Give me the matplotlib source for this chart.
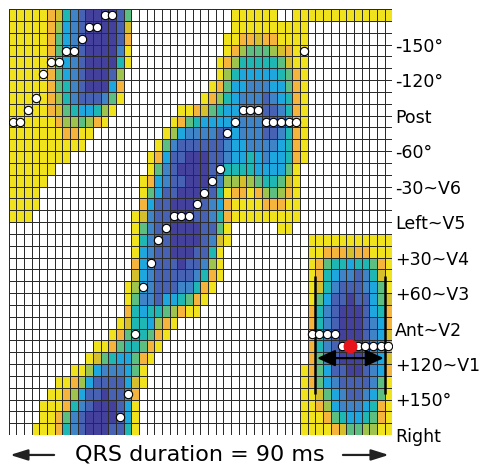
import numpy as np
import matplotlib
matplotlib.use('Agg')
import matplotlib.pyplot as plt
from matplotlib.colors import ListedColormap

# === Grille 36 lignes x 50 colonnes : une lettre par case ===
# . blanc, y jaune, o orange, l olive, g vert-jaune, G vert, t turquoise,
# c cyan, m bleu moyen, b bleu, d bleu fonce
heat_rows = [
    "yyyyyoltmbddddbG.............yyyyyy..yyyyyyyyyyyyy",
    "yyyyyogcmbddddbl.............yyyyyyyyyy...........",
    "yyyyyoGcmbddddbo............yyoolooyyyy...........",
    "yyyyyoGcmbddddmy............yogGGGgloyy...........",
    "yyyyyoGcmbddddty...........yogtttttGlyy...........",
    "yyyyyoGcmbdddbg............ygtccccctGoy...........",
    "yyyyyoGtmbdddco...........yoGccmmmccGoy...........",
    "yyyyyogtmbbbmGy..........yogtcmmmbmctoy...........",
    "yyyyyolGtcctgy........yyolGtccmmmbbmtoy...........",
    "yyyyyyoggGgoy........yoGtccccmmmmbbbcoy...........",
    "yyyyyyyooyy.........ygcmmmmbbcmmmbbmtoy...........",
    "yyyyyyyyyy.........yGmbbbbbbmccmmmmctoy...........",
    "yyyyyyyy..........yocbbdddbbmcctcmcctoy...........",
    "yyyyyy............yGmbddddbbttttccccGy............",
    "yyyyy............yocmbbdddbmgglgGttGly............",
    "yyyy.............yGcbbdddbbtyooyogGgoy............",
    "yyyy.............ocbbdddbbmcoyyyyoooyy............",
    "yyy.............ylmbbdddbbmtoyyyyyyyyy............",
    "................yGmbbddddbbGy......yy.............",
    "................ytmbbddddbmly..........yyyyyyyyyyy",
    "................ycmbbdddbbty...........yyooolooyyy",
    "................ocmbbbdbbmgy...........yoGttcttGoy",
    "................lcmbbbbbmtoy...........yotcmmbmtly",
    "...............ygcmbbbmmtoy............yltmbbbmcGy",
    "...............yGmmbcctGoy.............yGcbbdbbcGl",
    "...............otcttGgoyy..............otmbdddbcto",
    "..............ylttcgoy.................otmbdddbmco",
    ".............yoGttGoy..................otmbdddbmcl",
    "...........yyoGttGoy...................otmbdddbmcl",
    "..........ylGtccGoy....................oGmbdddbmcl",
    "........yygcmmmcGy....................yoGcbbddbmco",
    "......yyogcbbbbcly....................yoGcmbbbbmGy",
    ".....yyogcbbdbbco.....................yylGcmbbmcGy",
    "....yyyotmbdddbcy.....................yyogcmmmctoy",
    "....yyoGmbddddbcy.....................yyyoGtcctGoy",
    "...yyyotmbdddbbty.....................yyyyolGGggyy",
]
level_keys = ".yolgGtcmbd"
level_colors = ['white', '#F0E31E', '#F5B53C', '#D5BF2D', '#9EC44E', '#5CBE80',
                '#1FB7B3', '#1EA7DF', '#3E84C7', '#4762B2', '#43419B']

# points blancs (colonne, ligne)
dot_cols = [12, 13, 10, 11, 9, 7, 8, 5, 6, 4, 3, 2, 0, 1,
            38, 30, 31, 32, 29, 33, 34, 35, 36, 37, 28,
            27, 26, 25, 24, 21, 22, 23, 20, 19, 18, 17, 16, 15, 14,
            39, 40, 41, 42, 43, 45, 46, 47, 48, 49]
dot_rows = [0, 0, 1, 1, 2, 3, 3, 4, 4, 5, 7, 8, 9, 9,
            3, 8, 8, 8, 9, 9, 9, 9, 9, 9, 10,
            13, 14, 15, 16, 17, 17, 17, 18, 19, 21, 23, 27, 32, 34,
            27, 27, 27, 27, 28, 28, 28, 28, 28, 28]
red_col, red_row = 44, 28

angle_labels = ["-150°", "-120°", "Post", "-60°", "-30~V6", "Left~V5",
                "+30~V4", "+60~V3", "Ant~V2", "+120~V1", "+150°", "Right"]
label_rows = [3, 6, 9, 12, 15, 18, 21, 24, 27, 30, 33, 36]

bar_cols = [40, 49]
bar_top, bar_bottom = 22.6, 32.5
arrow_left, arrow_right, arrow_row = 40.2, 48.9, 29.5

bad = [i for i, r in enumerate(heat_rows) if len(r) != 50]
assert not bad, f"lignes de mauvaise longueur: {[(i, len(heat_rows[i])) for i in bad]}"

Z = np.array([[level_keys.index(ch) for ch in row] for row in heat_rows])

fig = plt.figure(figsize=(4.83, 4.70), dpi=100)
ax = fig.add_axes([0.018, 0.0745, 0.794, 0.906])
ax.pcolormesh(np.arange(Z.shape[1] + 1), np.arange(Z.shape[0] + 1), Z,
              cmap=ListedColormap(level_colors), vmin=-0.5, vmax=10.5,
              edgecolors='#2b2b2b', linewidth=0.5)
ax.set_xlim(0, Z.shape[1])
ax.set_ylim(Z.shape[0], 0)

ax.plot(np.array(dot_cols) + 0.5, np.array(dot_rows) + 0.5, 'o', ls='none',
        mfc='white', mec='black', mew=0.8, ms=6, zorder=5)
ax.plot(red_col + 0.5, red_row + 0.5, 'o', color='#E8141B', ms=9, zorder=6)

ax.vlines(bar_cols, bar_top, bar_bottom, color='black', lw=1.8, zorder=4)
ax.annotate('', xy=(arrow_right, arrow_row), xytext=(arrow_left, arrow_row),
            arrowprops=dict(arrowstyle='<|-|>,head_length=0.55,head_width=0.25',
                            color='black', lw=1.6, shrinkA=0, shrinkB=0,
                            mutation_scale=20), zorder=6)

ax.set_xticks([])
ax.yaxis.tick_right()
ax.set_yticks(label_rows)
ax.set_yticklabels(angle_labels, fontsize=12.5)
ax.tick_params(axis='y', length=0, pad=2)
for s in ax.spines.values():
    s.set_visible(False)

# === legende du bas ===
fig.text(0.413, 0.032, "QRS duration = 90 ms", ha='center', va='center', fontsize=16)
arrow_kw = dict(arrowstyle='-|>,head_length=0.7,head_width=0.22', color='#222222',
                lw=1.6, shrinkA=0, shrinkB=0, mutation_scale=15)
ax.annotate('', xy=(0.021, 0.032), xytext=(0.112, 0.032), xycoords='figure fraction',
            textcoords='figure fraction', arrowprops=arrow_kw, annotation_clip=False)
ax.annotate('', xy=(0.805, 0.032), xytext=(0.710, 0.032), xycoords='figure fraction',
            textcoords='figure fraction', arrowprops=arrow_kw, annotation_clip=False)

fig.savefig('out.png', dpi=100, facecolor='white')
